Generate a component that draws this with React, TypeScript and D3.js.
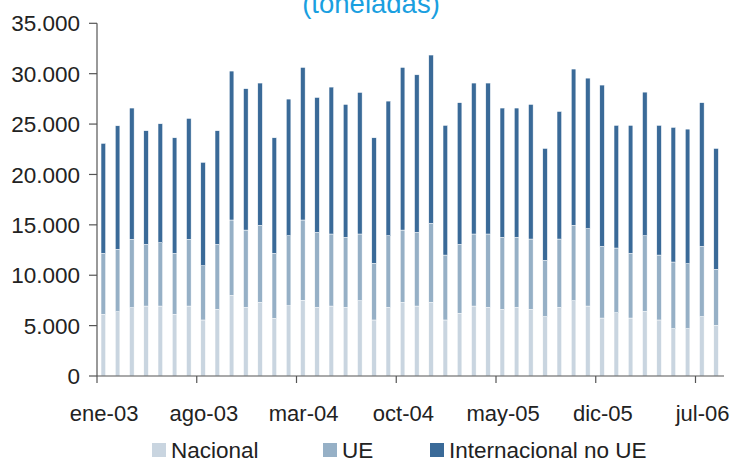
import React from "react";
import * as d3 from "d3";

const months = [
  "ene-03","feb-03","mar-03","abr-03","may-03","jun-03","jul-03","ago-03","sep-03","oct-03","nov-03","dic-03",
  "ene-04","feb-04","mar-04","abr-04","may-04","jun-04","jul-04","ago-04","sep-04","oct-04","nov-04","dic-04",
  "ene-05","feb-05","mar-05","abr-05","may-05","jun-05","jul-05","ago-05","sep-05","oct-05","nov-05","dic-05",
  "ene-06","feb-06","mar-06","abr-06","may-06","jun-06","jul-06","ago-06",
];

const nacional = [
  6120, 6380, 6780, 6940, 6940, 6120, 6940, 5560, 6610, 8000, 6810, 7310,
  5720, 6970, 7510, 6810, 6940, 6810, 7470, 5560, 6810, 7310, 6940, 7310,
  5560, 6220, 6940, 6810, 6610, 6810, 6610, 5890, 6810, 7470, 6940, 5750,
  6280, 5750, 6410, 5560, 4700, 4700, 5890, 5030,
];

const ue = [
  6050, 6190, 6780, 6120, 6290, 6050, 6620, 5380, 6450, 7480, 7670, 7640,
  6450, 6950, 7970, 7440, 7150, 6950, 6620, 5620, 7110, 7170, 7310, 7840,
  6440, 6840, 7150, 7280, 7150, 6950, 6980, 5580, 6780, 7480, 7680, 7110,
  6420, 6420, 7510, 6440, 6610, 6450, 6970, 5550,
];

const internacionalNoUE = [
  10915, 12260, 13030, 11280, 11800, 11470, 12000, 10260, 11280, 14780, 14030, 14120,
  11470, 13560, 15140, 13390, 14580, 13190, 14050, 12460, 13360, 16140, 15640, 16700,
  12870, 14060, 14980, 14980, 12830, 12830, 13360, 11110, 12660, 15510, 14940, 16010,
  12170, 12700, 14250, 12870, 13360, 13350, 14260, 12000,
];

const seriesNames = ["Nacional", "UE", "Internacional no UE"];
const seriesColors = ["#c9d5e0", "#96b0c6", "#3a6a98"];
const yTicks = [0, 5000, 10000, 15000, 20000, 25000, 30000, 35000];
const xTickLabels = ["ene-03", "ago-03", "mar-04", "oct-04", "may-05", "dic-05", "jul-06"];
const title = "(toneladas)";

const W = 735;
const H = 460;
const FONT = "'Liberation Sans', Arial, Helvetica, sans-serif";

export default function App() {
  const left = 97;
  const right = 724;
  const top = 23.3;
  const bottom = 376;

  const rows = months.map((m, i) => ({
    month: m,
    Nacional: nacional[i],
    UE: ue[i],
    "Internacional no UE": internacionalNoUE[i],
  }));

  const stack = d3.stack<any>().keys(seriesNames);
  const layers = stack(rows);

  const x = d3.scaleBand<string>().domain(months).range([left, right]).paddingInner(0).paddingOuter(0);
  const y = d3.scaleLinear().domain([0, 35000]).range([bottom, top]);
  const barW = 4.6;
  const fmt = (v: number) => d3.format(",")(v).replace(/,/g, ".");

  return (
    <svg
      width={W}
      height={H}
      style={{ position: "absolute", left: 0, top: 0, background: "#fff" }}
      fontFamily={FONT}
    >
      <text x={371} y={12.5} textAnchor="middle" fontSize={27.5} fill="#1a9fe0">
        {title}
      </text>

      {layers.map((layer, li) => (
        <g key={layer.key} fill={seriesColors[li]}>
          {layer.map((d, i) => {
            const cx = (x(months[i]) as number) + x.bandwidth() / 2 - 0.8;
            return (
              <rect
                key={i}
                x={cx - barW / 2}
                y={y(d[1])}
                width={barW}
                height={y(d[0]) - y(d[1])}
                stroke="#ffffff"
                strokeWidth={0.5}
              />
            );
          })}
        </g>
      ))}

      {/* Y axis */}
      <line x1={left} x2={left} y1={top} y2={bottom} stroke="#555" strokeWidth={1.2} />
      {yTicks.map((t) => (
        <g key={t}>
          <line x1={left - 8} x2={left} y1={y(t)} y2={y(t)} stroke="#555" strokeWidth={1.2} />
          <text
            x={80}
            y={y(t)}
            dy="0.36em"
            textAnchor="end"
            fontSize={22.5}
            fill="#222"
          >
            {fmt(t)}
          </text>
        </g>
      ))}

      {/* X axis */}
      <line x1={left} x2={right} y1={bottom} y2={bottom} stroke="#555" strokeWidth={1.2} />
      {xTickLabels.map((lab) => {
        const x0 = x(lab) as number;
        return (
          <g key={lab}>
            <line x1={x0} x2={x0} y1={bottom} y2={bottom + 7} stroke="#555" strokeWidth={1.2} />
            <text
              x={x0 + x.bandwidth() / 2}
              y={421}
              textAnchor="middle"
              fontSize={22}
              fill="#222"
            >
              {lab}
            </text>
          </g>
        );
      })}

      {/* Legend */}
      {seriesNames.map((name, i) => {
        const lx = [152, 323, 430][i];
        return (
          <g key={name}>
            <rect x={lx} y={443} width={14} height={14} fill={seriesColors[i]} />
            <text x={lx + 19} y={458} fontSize={22.5} fill="#222">
              {name}
            </text>
          </g>
        );
      })}
    </svg>
  );
}
